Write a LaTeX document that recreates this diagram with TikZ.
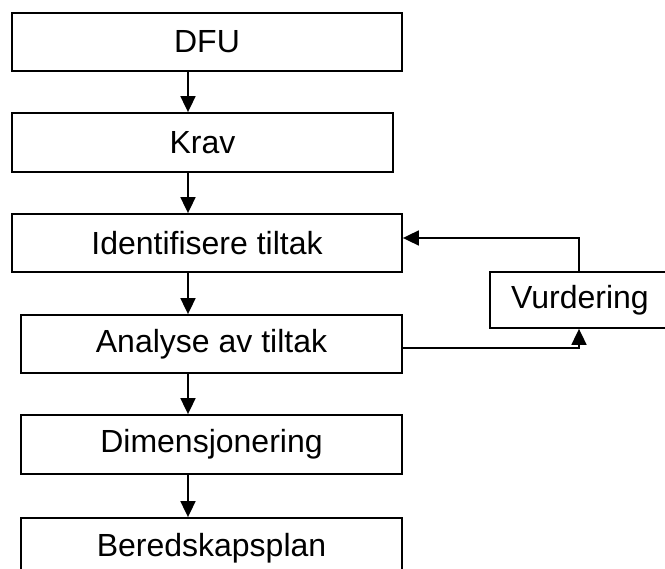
\documentclass[tikz,border=0pt]{standalone}
\usepackage{fontspec}
\setmainfont{Liberation Sans}
\usetikzlibrary{arrows.meta}
\begin{document}
\begin{tikzpicture}[x=1pt,y=-1pt,
  box/.style={draw=black, line width=1.8pt, rectangle, inner sep=0pt,
              font=\fontsize{32}{36}\selectfont},
  arr/.style={draw=black, line width=1.8pt, -{Triangle[length=16pt,width=15pt]}},
  link/.style={draw=black, line width=1.8pt}]
  \clip (0,0) rectangle (665,569);
  \fill[white] (0,0) rectangle (665,569);

  % main chain of steps
  \node[box, minimum width=390pt, minimum height=58pt] (dfu)   at (207,42)    {DFU};
  \node[box, minimum width=381pt, minimum height=59pt] (krav)  at (202.5,142.5) {Krav};
  \node[box, minimum width=390pt, minimum height=58pt] (ident) at (207,243)   {Identifisere tiltak};
  \node[box, minimum width=381pt, minimum height=58pt] (anal)  at (211.5,344) {Analyse av tiltak};
  \node[box, minimum width=381pt, minimum height=59pt] (dim)   at (211.5,444.5) {Dimensjonering};
  \node[box, minimum width=381pt, minimum height=60pt] (bered) at (211.5,548) {Beredskapsplan};

  % evaluation step on the side
  \node[box, minimum width=180pt, minimum height=56pt] (vurd)  at (580,300)  {Vurdering};

  % vertical spine of the flow and the feedback column
  \coordinate (spine) at (188,0);
  \coordinate (fb) at (579,0);

  \draw[arr] (dfu.south -| spine)   -- (krav.north -| spine);
  \draw[arr] (krav.south -| spine)  -- (ident.north -| spine);
  \draw[arr] (ident.south -| spine) -- (anal.north -| spine);
  \draw[arr] (anal.south -| spine)  -- (dim.north -| spine);
  \draw[arr] (dim.south -| spine)   -- (bered.north -| spine);

  % feedback loop
  \draw[arr] ([yshift=-4pt]anal.east) -| (vurd.south -| fb);
  \draw[arr] (vurd.north -| fb) |- ([yshift=5pt]ident.east);
\end{tikzpicture}
\end{document}
